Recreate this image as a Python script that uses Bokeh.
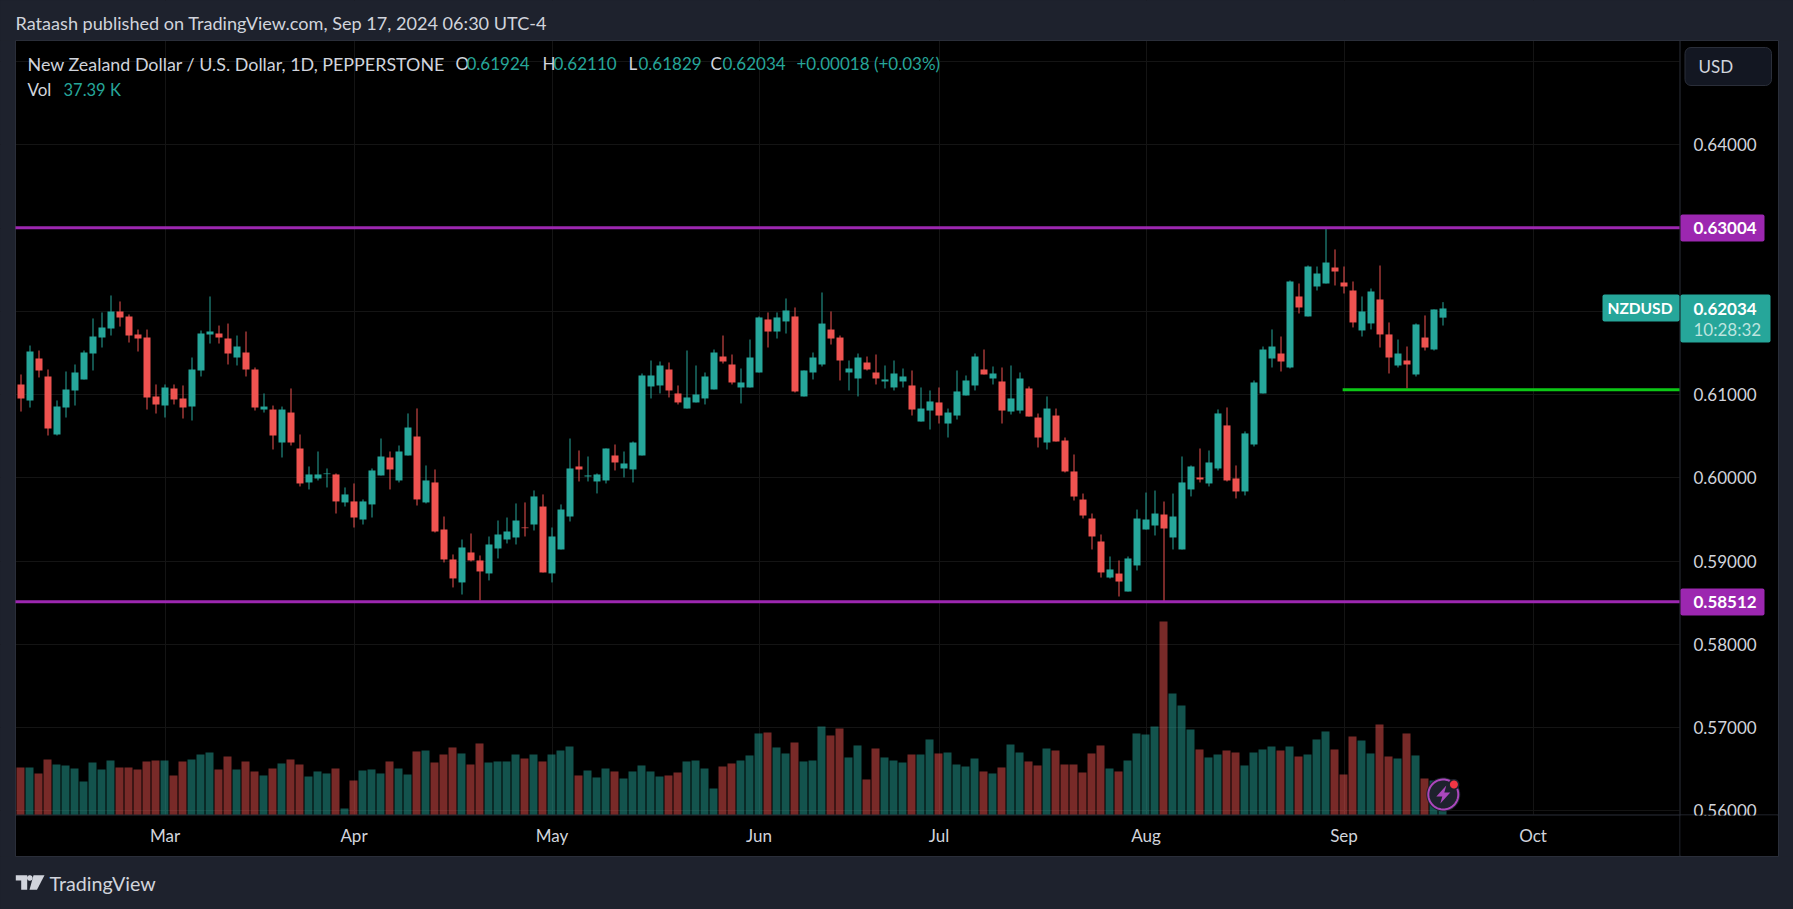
import numpy as np
from bokeh.embed import file_html
from bokeh.resources import INLINE
from bokeh.plotting import figure
from bokeh.models import (ColumnDataSource, Range1d, LinearAxis, FixedTicker, NumeralTickFormatter,
                          Label, BoxAnnotation, PolyAnnotation, Grid)

opens = [.61121,.60929,.61433,.61217,.60520,.60844,.61049,.61181,.61493,.61685,
.61793,.61998,.61938,.61721,.61685,.60977,.60868,.61073,.60953,.60856,
.61289,.61721,.61733,.61673,.61445,.61505,.61301,.60820,.60820,.60424,
.60784,.60352,.59944,.59992,.60044,.60040,.59704,.59716,.59499,.59680,
.60028,.60244,.59968,.60268,.60496,.59704,.59944,.59379,.59019,.58743,
.59103,.59007,.58851,.59151,.59259,.59283,.59403,.59439,.59655,.58851,
.59139,.59535,.60136,.60016,.59956,.59968,.60268,.60112,.60100,.60268,
.61097,.61109,.61301,.61013,.60832,.60905,.60953,.61061,.61457,.61361,
.61085,.61085,.61265,.61902,.61757,.61878,.61938,.60977,.61265,.61361,
.61781,.61685,.61265,.61193,.61385,.61265,.61157,.61085,.61157,.61109,
.60676,.60808,.60905,.60652,.60748,.60989,.61109,.61301,.61193,.61157,
.60796,.60808,.61073,.60724,.60424,.60748,.60448,.60076,.59739,.59511,
.59235,.58802,.58850,.58634,.58947,.59379,.59427,.59559,.59283,.59139,
.59860,.60004,.59932,.60112,.60629,.59992,.59836,.60400,.61013,.61433,
.61493,.61325,.62178,.61938,.62298,.62334,.62526,.62346,.62250,.61770,
.61854,.62142,.61722,.61349,.61409,.61241,.61685,.61541,.61924]

closes = [.60953,.61517,.61289,.60592,.60856,.61061,.61265,.61505,.61697,.61805,
.61998,.61926,.61709,.61673,.60965,.60881,.61085,.60941,.60844,.61301,
.61733,.61757,.61685,.61493,.61577,.61301,.60844,.60856,.60508,.60820,
.60424,.59932,.60040,.60040,.60052,.59716,.59800,.59523,.59716,.60088,
.60256,.60100,.60316,.60604,.59740,.59968,.59355,.59019,.58791,.59163,
.59007,.58875,.59199,.59319,.59355,.59487,.59395,.59776,.58863,.59295,
.59619,.60112,.60100,.60028,.60040,.60352,.60184,.60172,.60424,.61229,
.61229,.61349,.61049,.60905,.60965,.61001,.61217,.61505,.61397,.61145,
.61145,.61445,.61926,.61757,.61926,.62010,.61037,.61289,.61445,.61853,
.61673,.61409,.61313,.61445,.61301,.61193,.61181,.61253,.61217,.60820,
.60832,.60917,.60748,.60784,.61037,.61169,.61457,.61241,.61253,.60808,
.60953,.61193,.60736,.60484,.60832,.60436,.60076,.59775,.59547,.59295,
.58863,.58899,.58754,.59031,.59511,.59499,.59571,.59391,.59535,.59944,
.60136,.59980,.60184,.60773,.59968,.59836,.60533,.61145,.61541,.61577,
.61397,.62358,.62046,.62538,.62454,.62586,.62478,.62298,.61866,.61998,
.62238,.61722,.61445,.61493,.61361,.61842,.61565,.62022,.62034]

highs = [.61241,.61589,.61529,.61301,.60929,.61277,.61361,.61529,.61914,.61986,
.62190,.62118,.61962,.61781,.61781,.61121,.61121,.61121,.61109,.61445,
.61769,.62178,.61829,.61853,.61709,.61757,.61325,.61013,.60868,.60856,
.61073,.60520,.60136,.60316,.60112,.60052,.59884,.59932,.59740,.60112,
.60472,.60316,.60388,.60773,.60833,.60148,.60100,.59535,.59079,.59259,
.59331,.59067,.59295,.59487,.59523,.59692,.59704,.59848,.59800,.59403,
.59680,.60472,.60328,.60256,.60052,.60352,.60400,.60316,.60436,.61253,
.61409,.61397,.61385,.61109,.61529,.61349,.61265,.61541,.61709,.61481,
.61313,.61661,.61938,.61986,.61986,.62154,.62046,.61289,.61505,.62226,
.61998,.61709,.61409,.61493,.61457,.61481,.61349,.61409,.61313,.61289,
.61085,.61049,.61085,.60832,.61289,.61229,.61493,.61541,.61337,.61325,
.61349,.61265,.61097,.60772,.60977,.60832,.60484,.60280,.59811,.59571,
.59319,.59055,.59007,.59055,.59619,.59823,.59847,.59715,.59811,.60256,
.60148,.60352,.60328,.60821,.60845,.60148,.60557,.61169,.61577,.61782,
.61697,.62370,.62334,.62550,.62538,.62995,.62743,.62538,.62358,.62178,
.62274,.62550,.61866,.61661,.61577,.61854,.61950,.62022,.62110]

lows = [.60796,.60844,.61205,.60508,.60508,.60724,.60868,.61181,.61289,.61565,
.61709,.61817,.61625,.61517,.60820,.60772,.60724,.60881,.60712,.60688,
.61217,.61613,.61613,.61361,.61349,.61217,.60808,.60784,.60340,.60244,
.60388,.59896,.59860,.59968,.59884,.59571,.59655,.59403,.59439,.59523,
.60028,.59860,.59944,.60268,.59667,.59692,.59343,.58983,.58683,.58598,
.58995,.58526,.58767,.59031,.59211,.59199,.59295,.59367,.58863,.58743,
.59139,.59475,.59956,.59956,.59812,.59932,.60088,.60004,.59944,.60268,
.60953,.61013,.60965,.60881,.60832,.60905,.60881,.61061,.61373,.61121,
.60893,.61085,.61265,.61565,.61673,.61733,.61025,.60977,.61181,.61337,
.61601,.61169,.61049,.60977,.61289,.61121,.61073,.61049,.61085,.60748,
.60676,.60580,.60652,.60484,.60700,.60989,.61049,.61241,.61121,.60652,
.60760,.60772,.60736,.60364,.60340,.60436,.60064,.59727,.59511,.59139,
.58802,.58790,.58574,.58634,.58887,.59379,.59307,.58502,.59139,.59139,
.59776,.59944,.59896,.60088,.59956,.59752,.59788,.60376,.61013,.61325,
.61277,.61313,.61974,.61938,.62250,.62334,.62310,.62214,.61806,.61697,
.61782,.61565,.61253,.61325,.61073,.61217,.61529,.61529,.61829]

volumes_k = [72.9,72.9,63.6,85.3,77.5,76.0,71.3,51.2,80.6,69.8,
83.7,72.9,72.9,69.8,82.2,83.7,83.7,60.5,82.2,85.3,
93.0,96.1,69.8,89.9,69.8,82.2,66.7,60.5,71.3,79.1,
85.3,77.5,58.9,66.7,63.6,71.3,9.3,52.7,68.2,69.8,
63.6,82.2,71.3,62.0,97.7,99.2,80.6,93.0,103.9,94.6,
77.5,110.1,80.6,82.2,82.2,93.0,86.8,93.0,82.2,93.0,
99.2,105.4,60.5,68.2,57.4,71.3,66.7,55.8,66.7,76.0,
66.7,58.9,60.5,65.1,82.2,83.7,71.3,40.3,74.4,79.1,
83.7,91.5,125.6,127.1,103.9,94.6,111.6,82.2,83.7,136.4,
122.5,133.3,88.4,107.0,54.3,102.3,88.4,83.7,80.6,93.0,
93.0,116.3,94.6,96.1,77.5,74.4,86.8,66.7,63.6,72.9,
108.5,96.1,82.2,76.0,102.3,99.2,77.5,77.5,65.1,94.6,
107.0,71.3,66.7,83.7,125.6,124.0,136.4,299.2,187.6,169.0,
131.8,100.8,88.4,93.0,99.2,96.1,76.0,96.1,100.8,105.4,
99.2,105.4,89.9,93.0,116.3,128.7,100.8,62.0,120.9,114.7,
94.6,139.5,89.9,86.8,125.6,91.5,55.8,52.7,37.4]

month_index = [16, 37, 59, 82, 102, 125, 147, 168]
month_names = ["Mar", "Apr", "May", "Jun", "Jul", "Aug", "Sep", "Oct"]
price_ticks = [0.56, 0.57, 0.58, 0.59, 0.60, 0.61, 0.64]
grid_prices = [0.56, 0.57, 0.58, 0.59, 0.60, 0.61, 0.62, 0.63, 0.64, 0.65]
resistance = 0.63004
support = 0.58512
green_level = 0.61057
green_start = 146.85

UP, DOWN = "#26a69a", "#ef5350"
BG, PANEL, EDGE, TXT = "#1e222d", "#000000", "#2a2e39", "#d1d4dc"
PURPLE, GREEN = "#9c27b0", "#0cc816"
GRID = "#141414"
FONT = "Lato"
W, H = 1793, 909
PANE_L, PANE_R, PANE_T, PANE_B = 15, 1679, 41, 814   # price pane in page pixels
PX_PER_BAR, BAR0_PX = 9, 20.5
PX_PER_PRICE, P064_PX = 8325, 144.3
K_PER_PX = 1.55


def bar_at(px):
    return (px - BAR0_PX) / PX_PER_BAR


def price_at(py):
    return 0.64 - (py - P064_PX) / PX_PER_PRICE


idx = np.arange(len(opens))
o, c = np.array(opens), np.array(closes)
up = c >= o
src = ColumnDataSource(dict(
    x=idx, vx=idx - 0.5 / 9, top=np.maximum(o, c), bot=np.minimum(o, c),
    high=highs, low=lows, vol=volumes_k,
    color=[UP if u else DOWN for u in up],
))

# The frame fills the whole canvas, because annotations are clipped to it;
# the axes' labels are pulled back inside with negative standoffs.
p = figure(width=W, height=H, output_backend="svg", toolbar_location=None,
           x_range=Range1d(bar_at(0), bar_at(W)), y_range=Range1d(price_at(H), price_at(0)),
           x_axis_type=None, y_axis_type=None,
           min_border_left=0, min_border_right=0, min_border_top=0, min_border_bottom=0,
           background_fill_color=BG, border_fill_color=BG, outline_line_color=None)
p.extra_y_ranges["vol"] = Range1d(-(H - PANE_B) * K_PER_PX, PANE_B * K_PER_PX)


def box(l, t, r, b, fill=None, line=None, radius=0, level="annotation"):
    p.add_layout(BoxAnnotation(left=l, right=r, top=t, bottom=b,
                               left_units="canvas", right_units="canvas",
                               top_units="canvas", bottom_units="canvas",
                               fill_color=fill, fill_alpha=1 if fill else 0,
                               line_color=line, line_alpha=1 if line else 0, line_width=1,
                               level=level, border_radius=radius, editable=False))


def txt(px, py, s, color=TXT, size=17, align="left", weight="normal", font=FONT):
    p.add_layout(Label(x=px, y=py, x_units="canvas", y_units="canvas", text=s,
                       text_color=color, text_font_size=f"{size}px", text_align=align,
                       text_baseline="middle", text_font_style=weight, text_font=font,
                       level="annotation"))


def poly(xs, ys, fill=None, line=None, lw=1):
    p.add_layout(PolyAnnotation(xs=list(xs), ys=list(ys),
                                xs_units="canvas", ys_units="canvas",
                                fill_color=fill, fill_alpha=1 if fill else 0,
                                line_color=line, line_alpha=1 if line else 0, line_width=lw,
                                level="annotation"))


yaxis = LinearAxis(ticker=FixedTicker(ticks=price_ticks), formatter=NumeralTickFormatter(format="0.00000"),
                   axis_line_color=None, major_tick_line_color=None, minor_tick_line_color=None,
                   major_tick_in=0, major_tick_out=0, minor_tick_in=0, minor_tick_out=0,
                   major_label_text_color=TXT, major_label_text_font=FONT,
                   major_label_text_font_size="17px", major_label_standoff=1693 - W)
p.add_layout(yaxis, "right")
xaxis = LinearAxis(ticker=FixedTicker(ticks=month_index),
                   major_label_overrides={i: n for i, n in zip(month_index, month_names)},
                   axis_line_color=None, major_tick_line_color=None, minor_tick_line_color=None,
                   major_tick_in=0, major_tick_out=0, minor_tick_in=0, minor_tick_out=0,
                   major_label_text_color=TXT, major_label_text_font=FONT,
                   major_label_text_font_size="17px", major_label_standoff=824 - H)
p.add_layout(xaxis, "below")

# black pane, grid, then everything that trims the grid back to the price pane
box(15, 40, 1778, 856, fill=PANEL, level="underlay")
p.add_layout(Grid(dimension=0, ticker=FixedTicker(ticks=month_index), grid_line_color=GRID))
p.add_layout(Grid(dimension=1, ticker=FixedTicker(ticks=grid_prices), grid_line_color=GRID))
box(PANE_R, PANE_T, 1778, 856, fill=PANEL, level="underlay")
box(15, PANE_B, PANE_R, 856, fill=PANEL, level="underlay")
box(0, 0, W, 40, fill=BG, level="underlay")
box(0, 856, W, H, fill=BG, level="underlay")
box(0, 40, 15, 856, fill=BG, level="underlay")
box(1778, 40, W, 856, fill=BG, level="underlay")
box(PANE_R, 40, PANE_R + 1, 856, fill=EDGE, level="underlay")
box(15, PANE_B, 1778, PANE_B + 1, fill=EDGE, level="underlay")
box(15, 40, 1778, 856, line=EDGE, level="underlay")

p.vbar(x="vx", top="vol", bottom=0, width=8 / 9, source=src, y_range_name="vol",
       fill_color="color", fill_alpha=0.5, line_color=None)
p.segment(x0="x", x1="x", y0="low", y1="high", source=src, line_color="color", line_width=1)
p.vbar(x="x", top="top", bottom="bot", width=7 / 9, source=src, fill_color="color", line_color=None)

pane_x0, pane_x1 = bar_at(PANE_L), bar_at(PANE_R)
p.segment(x0=[pane_x0, pane_x0], x1=[pane_x1, pane_x1], y0=[resistance, support], y1=[resistance, support],
          line_color=PURPLE, line_width=3)
p.segment(x0=[green_start], x1=[pane_x1], y0=[green_level], y1=[green_level], line_color=GREEN, line_width=3)

# cover for the part of the 0.56000 label below the pane
box(1680, 815, 1777, 855, fill=PANEL)

# header
txt(15, 22, "Rataash published on TradingView.com, Sep 17, 2024 06:30 UTC-4", size=18.1)
txt(27, 63, "New Zealand Dollar / U.S. Dollar, 1D, PEPPERSTONE", size=17.9)
for x0, s in [(455, "O"), (542, "H"), (628, "L"), (710, "C")]:
    txt(x0, 63, s)
txt(27, 89, "Vol")
for x0, s in [(466, "0.61924"), (553, "0.62110"), (638, "0.61829"), (722, "0.62034"),
              (796, "+0.00018 (+0.03%)")]:
    txt(x0, 63, s, color=UP)
txt(63, 89, "37.39 K", color=UP, size=16.5)

# currency button
box(1684.5, 47, 1771, 85, fill="#131722", line=EDGE, radius=6)
txt(1698, 66, "USD")

# price badges
box(1680, 214, 1764, 241, fill=PURPLE, radius=2)
txt(1693, 227.5, "0.63004", color="#ffffff", weight="bold")
box(1680, 588, 1764, 615, fill=PURPLE, radius=2)
txt(1693, 601.5, "0.58512", color="#ffffff", weight="bold")
box(1602, 294, 1679, 321, fill=UP, radius=2)
txt(1607, 307.5, "NZDUSD", color="#ffffff", size=15.5, weight="bold")
box(1680, 294, 1770, 342, fill=UP, radius=2)
txt(1693, 308, "0.62034", color="#ffffff", weight="bold")
txt(1693, 329, "10:28:32", color="#bce4df")

# flash icon
t = np.linspace(0, 2 * np.pi, 48)
cx, cy = 1442.8, 794
poly(cx + 17 * np.cos(t), cy + 17 * np.sin(t), fill=BG)
poly(cx + 15 * np.cos(t), cy + 15 * np.sin(t), line="#ab47bc", lw=2)
poly(np.array([3, -7, -1, -3, 7, 1]) + cx, np.array([-9, 2, 2, 9, -2, -2]) + cy, fill="#ab47bc")
poly(1453.4 + 5.5 * np.cos(t), 784 + 5.5 * np.sin(t), fill=BG)
poly(1453.4 + 4 * np.cos(t), 784 + 4 * np.sin(t), fill="#f23645")

# logo
poly([15.3, 26.7, 26.7, 20.7, 20.7, 15.3], [874.7, 874.7, 889.3, 889.3, 880, 880], fill=TXT)
poly(29.3 + 2.8 * np.cos(t), 877.5 + 2.8 * np.sin(t), fill=TXT)
poly([33, 44, 36.5, 29], [874.7, 874.7, 889.3, 889.3], fill=TXT)
txt(49, 883, "TradingView", size=19.7)

html = file_html(p, INLINE)
html = html.replace("</head>", "<style>html,body{background:#1e222d;overflow:hidden}</style></head>")
open("out.html", "w").write(html)
